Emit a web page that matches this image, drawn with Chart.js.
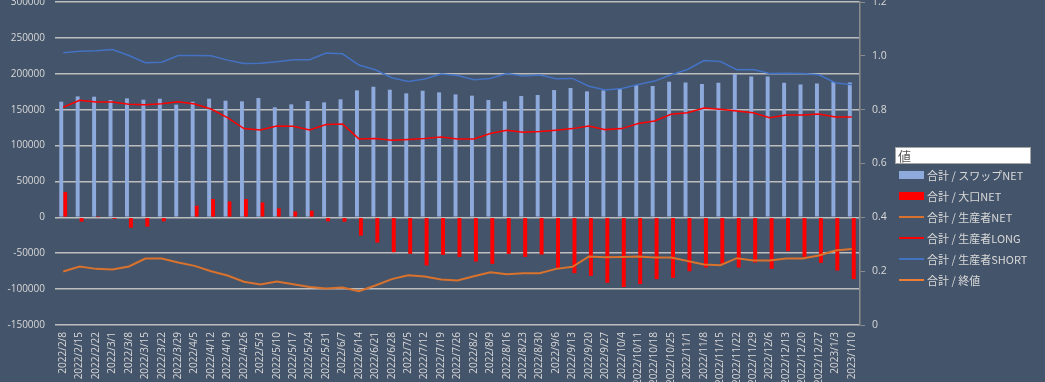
<!DOCTYPE html>
<html>
<head>
<meta charset="utf-8">
<script src="https://cdn.jsdelivr.net/npm/chart.js@4/dist/chart.umd.min.js"></script>
<style>
  body { margin: 0; background: #44546A; }
  #wrap { position: relative; width: 1045px; height: 382px; overflow: hidden; background: #44546A; }
  #fieldBox {
    position: absolute; left: 895px; top: 147px; width: 132px; height: 15px;
    background: #fff; border: 1px solid #A6A6A6; color: #595959;
    font: 13px 'Noto Sans CJK JP', sans-serif; line-height: 15px; padding-left: 2px;
  }
  .legendRow {
    position: absolute; left: 899px; height: 20px; display: flex; align-items: center;
    color: #D9D9D9; font: 11px 'Noto Sans CJK JP', sans-serif; white-space: nowrap;
  }
  .legendRow span.swatch { display: inline-block; width: 25px; margin-right: 3px; }
</style>
</head>
<body>
<div id="wrap">
  <canvas id="cotChart" width="1045" height="382"></canvas>
  <div id="fieldBox">値</div>
  <div id="legend"></div>
</div>
<script>
// weekly report dates
var weekLabels = [
  '2022/2/8', '2022/2/15', '2022/2/22', '2022/3/1', '2022/3/8', '2022/3/15', '2022/3/22', '2022/3/29',
  '2022/4/5', '2022/4/12', '2022/4/19', '2022/4/26', '2022/5/3', '2022/5/10', '2022/5/17', '2022/5/24',
  '2022/5/31', '2022/6/7', '2022/6/14', '2022/6/21', '2022/6/28', '2022/7/5', '2022/7/12', '2022/7/19',
  '2022/7/26', '2022/8/2', '2022/8/9', '2022/8/16', '2022/8/23', '2022/8/30', '2022/9/6', '2022/9/13',
  '2022/9/20', '2022/9/27', '2022/10/4', '2022/10/11', '2022/10/18', '2022/10/25', '2022/11/1', '2022/11/8',
  '2022/11/15', '2022/11/22', '2022/11/29', '2022/12/6', '2022/12/13', '2022/12/20', '2022/12/27', '2023/1/3',
  '2023/1/10'
];

var swapNet = [
  161100, 168500, 168100, 163400, 165800, 163900, 165300, 157000,
  161100, 165300, 162500, 161600, 166200, 153300, 157400, 162100,
  160200, 164400, 176900, 182000, 177800, 172700, 176400, 174100,
  171300, 169500, 163400, 161600, 169000, 170400, 177300, 180100,
  175500, 176900, 180100, 184300, 182900, 188900, 188000, 185700,
  187500, 199600, 196300, 196300, 187500, 185200, 186600, 188400,
  188000
];

var largeNet = [
  35200, -6000, 300, -2300, -14400, -13000, -5600, 1000,
  16200, 25500, 22200, 25500, 20800, 12500, 8300, 9300,
  -5600, -6000, -25500, -35200, -48600, -50900, -67100, -52300,
  -55100, -61600, -64800, -50900, -55100, -51900, -70400, -77800,
  -81500, -91200, -97200, -93100, -86100, -84300, -75000, -69900,
  -64400, -69900, -63000, -71800, -47200, -55100, -63400, -74100,
  -86100
];

var producerNet = [
  -75500, -68500, -71800, -72700, -68500, -57400, -57400, -63000,
  -67600, -75000, -81000, -89800, -93500, -89400, -93100, -97200,
  -99300, -97700, -102800, -94900, -86100, -80600, -82400, -86600,
  -88000, -82000, -76400, -79200, -77800, -77800, -71800, -69000,
  -54600, -55600, -55100, -54600, -56000, -56000, -60700, -65700,
  -66700, -56900, -60200, -60200, -57400, -57400, -53200, -46300,
  -44000
];

var producerLong = [
  153300, 163000, 160700, 160700, 157400, 157000, 158300, 161100,
  157900, 150900, 138900, 123600, 121800, 127300, 126900, 121800,
  129200, 130100, 109300, 109700, 107400, 108300, 109700, 112000,
  109300, 109300, 116700, 121300, 118500, 119500, 121300, 123600,
  127300, 122200, 123600, 130600, 134300, 143500, 145800, 152300,
  150500, 148200, 145800, 138900, 142600, 142600, 144000, 139800,
  139800
];

var producerShort = [
  229200, 231500, 232000, 233800, 225500, 215300, 216200, 225500,
  225500, 225000, 219000, 214400, 214800, 216700, 219500, 219500,
  229000, 227800, 212100, 205600, 194500, 189400, 192600, 199600,
  197700, 191700, 193500, 200500, 196800, 198200, 193100, 193500,
  182600, 177300, 179600, 185200, 189800, 198600, 206000, 218500,
  217100, 205600, 206000, 200500, 200900, 200500, 198600, 187500,
  184700
];

// 終値 sits on the right axis but no line shows up in the picture
var closePrice = [];

var leftTicks = { min: -150000, max: 300000, step: 50000 };
var rightTicks = { min: 0, max: 1.2, step: 0.2 };

var labelColor = '#D9D9D9';
var axisFont = { family: "'Open Sans', 'Noto Sans CJK JP', sans-serif", size: 10 };

var ctx = document.getElementById('cotChart').getContext('2d');
var chart = new Chart(ctx, {
  type: 'bar',
  data: {
    labels: weekLabels,
    datasets: [
      { type: 'bar', label: '合計 / スワップNET', data: swapNet, backgroundColor: '#8EA9DB', yAxisID: 'y', order: 2 },
      { type: 'bar', label: '合計 / 大口NET', data: largeNet, backgroundColor: '#FF0000', yAxisID: 'y', order: 2 },
      { type: 'line', label: '合計 / 生産者NET', data: producerNet, borderColor: '#D9722D', borderWidth: 2,
        pointRadius: 0, tension: 0, yAxisID: 'y', order: 1 },
      { type: 'line', label: '合計 / 生産者LONG', data: producerLong, borderColor: '#FF0000', borderWidth: 1.5,
        pointRadius: 0, tension: 0, yAxisID: 'y', order: 1 },
      { type: 'line', label: '合計 / 生産者SHORT', data: producerShort, borderColor: '#4472C4', borderWidth: 1.5,
        pointRadius: 0, tension: 0, yAxisID: 'y', order: 1 },
      { type: 'line', label: '合計 / 終値', data: closePrice, borderColor: '#ED7D31', borderWidth: 2,
        pointRadius: 0, tension: 0, yAxisID: 'y1', order: 1 }
    ]
  },
  options: {
    responsive: false,
    animation: false,
    layout: { padding: { top: 2 } },
    datasets: { bar: { categoryPercentage: 0.48, barPercentage: 1 } },
    plugins: { legend: { display: false }, tooltip: { enabled: false } },
    scales: {
      x: {
        grid: { display: false, drawTicks: false },
        border: { display: false },
        ticks: { color: labelColor, font: axisFont, minRotation: 90, maxRotation: 90, autoSkip: false, padding: 7 },
        afterFit: function (s) { s.height = 57; }
      },
      y: {
        position: 'left',
        min: leftTicks.min,
        max: leftTicks.max,
        ticks: {
          stepSize: leftTicks.step, color: labelColor, font: axisFont, padding: 10,
          callback: function (v) { return String(v); }
        },
        grid: { color: '#BDBDBD', lineWidth: 1.5, drawTicks: false },
        border: { display: false },
        afterFit: function (s) { s.width = 55; s.paddingTop = 0; s.paddingBottom = 0; }
      },
      y1: {
        position: 'right',
        min: rightTicks.min,
        max: rightTicks.max,
        ticks: { stepSize: rightTicks.step, color: labelColor, font: { family: axisFont.family, size: 10.5 }, padding: 7 },
        grid: { drawOnChartArea: false, color: '#8C8C8C', tickLength: 5 },
        border: { display: true, color: '#8C8C8C', width: 1.5 },
        afterFit: function (s) { s.width = 185; s.paddingTop = 0; s.paddingBottom = 0; }
      }
    }
  }
});

// legend on the right, built from the datasets
var legend = document.getElementById('legend');
chart.data.datasets.forEach(function (ds, i) {
  var row = document.createElement('div');
  row.className = 'legendRow';
  row.style.top = (174.5 + i * 21.1 - 10) + 'px';
  var sw = document.createElement('span');
  sw.className = 'swatch';
  if (ds.type === 'bar') {
    sw.style.height = '8px';
    sw.style.background = ds.backgroundColor;
  } else {
    sw.style.height = '2px';
    sw.style.background = ds.borderColor;
  }
  row.appendChild(sw);
  row.appendChild(document.createTextNode(ds.label));
  legend.appendChild(row);
});
</script>
</body>
</html>
